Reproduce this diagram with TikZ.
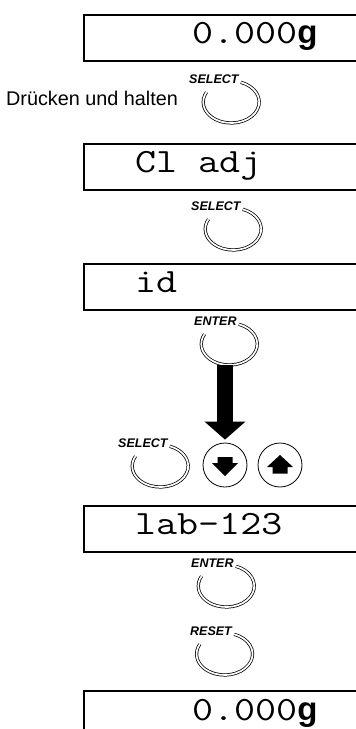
\documentclass[tikz,border=0pt]{standalone}
\usepackage{fontspec}
\setmainfont{Liberation Sans}
\newfontfamily\lcdfont{Latin Modern Mono}[FakeStretch=1.2]
\usetikzlibrary{arrows.meta,shapes.geometric}
\newcommand\unitg{{\normalfont\bfseries\fontsize{33}{38}\selectfont g}}

\begin{document}
\begin{tikzpicture}[
    x=1pt, y=1pt,
    display/.style={rectangle, draw=black, line width=1.8pt, minimum width=320pt,
                    minimum height=46pt, anchor=north west, inner sep=0pt},
    lcdtext/.style={font=\lcdfont\fontsize{34}{40}\selectfont, anchor=base west, inner sep=0pt},
    note/.style={font=\fontsize{19.8}{22}\selectfont, anchor=base west, inner sep=0pt},
    keylabel/.style={font=\bfseries\itshape\fontsize{12.5}{14}\selectfont, anchor=base west, inner sep=0pt},
    keyspot/.style={ellipse, minimum width=56pt, minimum height=42pt, inner sep=0pt},
    keyring/.style={double, double distance=1.7pt, line width=0.75pt},
    arrowkey/.style={circle, draw=black, line width=0.8pt, minimum size=44pt, inner sep=0pt},
    bigarrow/.style={line width=16pt, -{Triangle[width=40pt, length=18pt]}}
]
\useasboundingbox (0,0) rectangle (356,-729);
\clip (0,0) rectangle (356,-729);
\node[display] (d1) at (83,-14) {};
\node[lcdtext] (t1) at (192,-43) {0.000\unitg};
\node[note] (hold) at (6,-105) {Drücken und halten};
\node[keylabel] (sel1) at (189,-83) {SELECT};
\node[keyspot] (sel1r) at ([shift={(-7.5,-19)}]sel1.base east) {};
\node[display] (d2) at (83,-143) {};
\node[lcdtext] (t2) at (135,-172) {Cl adj};
\node[keylabel] (sel2) at (191,-210) {SELECT};
\node[keyspot] (sel2r) at ([shift={(-7.5,-19)}]sel2.base east) {};
\node[display] (d3) at (83,-263) {};
\node[lcdtext] (t3) at (135,-292) {id};
\node[keylabel] (ent1) at (194,-325) {ENTER};
\node[keyspot] (ent1r) at ([shift={(-7.5,-19)}]ent1.base east) {};
\node[keylabel] (sel3) at (118,-447) {SELECT};
\node[keyspot] (sel3r) at ([shift={(-7.5,-19)}]sel3.base east) {};
\node[arrowkey] (down) at (225,-465) {};
\node[arrowkey] (up) at (280,-465) {};
\node[display] (d4) at (83,-505) {};
\node[lcdtext] (t4) at (135,-534) {lab-123};
\node[keylabel] (ent2) at (191,-567) {ENTER};
\node[keyspot] (ent2r) at ([shift={(-7.5,-19)}]ent2.base east) {};
\node[keylabel] (rst1) at (190,-635) {RESET};
\node[keyspot] (rst1r) at ([shift={(-7.5,-19)}]rst1.base east) {};
\node[display] (d5) at (83,-690) {};
\node[lcdtext] (t5) at (192,-720) {0.000\unitg};
\draw[keyring] ([shift={(70:28pt and 21pt)}]sel1r.center) arc[start angle=70, end angle=-208, x radius=28pt, y radius=21pt];
\draw[keyring] ([shift={(70:28pt and 21pt)}]sel2r.center) arc[start angle=70, end angle=-208, x radius=28pt, y radius=21pt];
\draw[keyring] ([shift={(70:28pt and 21pt)}]ent1r.center) arc[start angle=70, end angle=-208, x radius=28pt, y radius=21pt];
\draw[keyring] ([shift={(70:28pt and 21pt)}]sel3r.center) arc[start angle=70, end angle=-208, x radius=28pt, y radius=21pt];
\draw[keyring] ([shift={(70:28pt and 21pt)}]ent2r.center) arc[start angle=70, end angle=-208, x radius=28pt, y radius=21pt];
\draw[keyring] ([shift={(70:28pt and 21pt)}]rst1r.center) arc[start angle=70, end angle=-208, x radius=28pt, y radius=21pt];
\fill[shift={(down.center)}] (-7.5,8) -- (7.5,8) -- (7.5,2) -- (13,2) -- (0,-11) -- (-13,2) -- (-7.5,2) -- cycle;
\fill[shift={(up.center)}] (0,10) -- (13,-2) -- (7.5,-2) -- (7.5,-8.5) -- (-7.5,-8.5) -- (-7.5,-2) -- (-13,-2) -- cycle;
\draw[bigarrow, shorten >=3pt] (down.north |- ent1r.south) -- (down.north);
\end{tikzpicture}
\end{document}
